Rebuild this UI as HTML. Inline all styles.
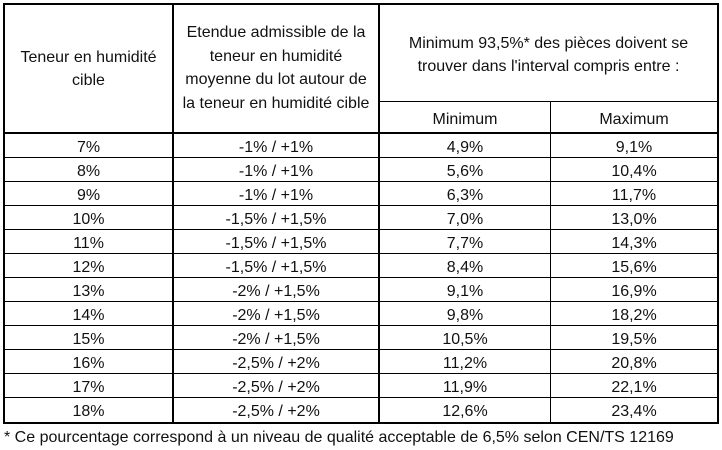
<!DOCTYPE html>
<html><head><meta charset="utf-8"><style>
body{margin:0;width:722px;height:449px;background:#fff;position:relative;overflow:hidden;font-family:"Liberation Sans",sans-serif;font-size:16px;color:#111}
.l{position:absolute;background:#000}
.t{position:absolute;text-align:center;line-height:24px;white-space:nowrap}
</style></head><body>
<div class="l" style="left:3px;top:3px;width:716px;height:2px"></div>
<div class="l" style="left:3px;top:3px;width:2px;height:421px"></div>
<div class="l" style="left:717px;top:3px;width:2px;height:421px"></div>
<div class="l" style="left:3px;top:422px;width:716px;height:2px"></div>
<div class="l" style="left:172px;top:3px;width:2px;height:421px"></div>
<div class="l" style="left:378px;top:3px;width:2px;height:421px"></div>
<div class="l" style="left:550px;top:102px;width:1px;height:321px"></div>
<div class="l" style="left:379px;top:101px;width:339px;height:1px"></div>
<div class="l" style="left:3px;top:132px;width:716px;height:2px"></div>
<div id="rows"></div>
<div class="t" style="left:5px;top:46px;width:167px;line-height:23px">Teneur en humidité<br>cible</div>
<div class="t" style="left:174px;top:21px;width:204px;line-height:23.7px">Etendue admissible de la<br>teneur en humidité<br>moyenne du lot autour de<br>la teneur en humidité cible</div>
<div class="t" style="left:380px;top:32px;width:337px;line-height:23px">Minimum 93,5%* des pièces doivent se<br>trouver dans l'interval compris entre :</div>
<div class="t" style="left:380px;top:108px;width:170px">Minimum</div>
<div class="t" style="left:551px;top:108px;width:166px">Maximum</div>
<div class="t" style="left:4px;top:426px;text-align:left">* Ce pourcentage correspond à un niveau de qualité acceptable de 6,5% selon CEN/TS 12169</div>
<script>
var d=[["7%","-1% / +1%","4,9%","9,1%"],["8%","-1% / +1%","5,6%","10,4%"],["9%","-1% / +1%","6,3%","11,7%"],["10%","-1,5% / +1,5%","7,0%","13,0%"],["11%","-1,5% / +1,5%","7,7%","14,3%"],["12%","-1,5% / +1,5%","8,4%","15,6%"],["13%","-2% / +1,5%","9,1%","16,9%"],["14%","-2% / +1,5%","9,8%","18,2%"],["15%","-2% / +1,5%","10,5%","19,5%"],["16%","-2,5% / +2%","11,2%","20,8%"],["17%","-2,5% / +2%","11,9%","22,1%"],["18%","-2,5% / +2%","12,6%","23,4%"]];
var xs=[[5,167],[174,204],[380,170],[551,166]],h="";
for(var i=0;i<12;i++){var y=134+i*24;
if(i>0)h+='<div class="l" style="left:3px;top:'+(y-1)+'px;width:716px;height:1px"></div>';
for(var j=0;j<4;j++)h+='<div class="t" style="left:'+xs[j][0]+'px;top:'+(y+2)+'px;width:'+xs[j][1]+'px;line-height:23px">'+d[i][j]+'</div>';}
document.getElementById("rows").innerHTML=h;
</script>
</body></html>
